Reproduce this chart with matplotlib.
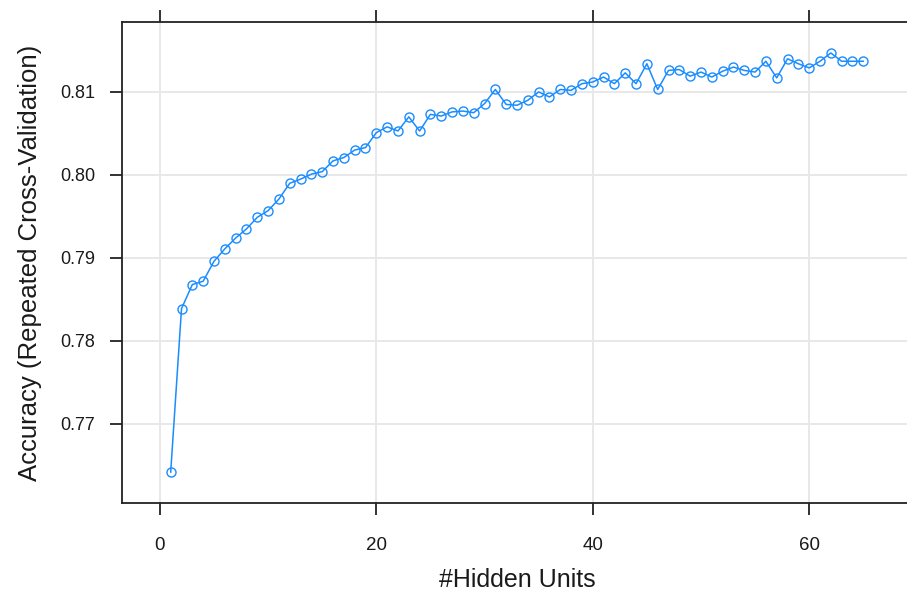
import matplotlib
matplotlib.use("Agg")
import matplotlib.pyplot as plt

plt.rcParams['font.family'] = ['Liberation Sans', 'DejaVu Sans']

# Cross-validated accuracy for each network size
hidden_units = list(range(1, 66))
accuracy = [
    0.7642, 0.7839, 0.7868, 0.7872, 0.7896, 0.7911, 0.7924, 0.7935, 0.7949, 0.7957,
    0.7971, 0.7990, 0.7995, 0.8001, 0.8004, 0.8017, 0.8021, 0.8030, 0.8033, 0.8051,
    0.8058, 0.8053, 0.8070, 0.8053, 0.8073, 0.8071, 0.8076, 0.8077, 0.8075, 0.8086,
    0.8103, 0.8085, 0.8084, 0.8090, 0.8100, 0.8094, 0.8103, 0.8102, 0.8110, 0.8112,
    0.8118, 0.8110, 0.8123, 0.8110, 0.8134, 0.8103, 0.8126, 0.8127, 0.8119, 0.8124,
    0.8118, 0.8125, 0.8130, 0.8126, 0.8124, 0.8137, 0.8117, 0.8140, 0.8134, 0.8129,
    0.8137, 0.8147, 0.8137, 0.8137, 0.8137,
]
x_ticks = [0, 20, 40, 60]
y_ticks = [0.77, 0.78, 0.79, 0.80, 0.81]
y_tick_labels = ["0.77", "0.78", "0.79", "0.80", "0.81"]

W, H = 907, 594
fig = plt.figure(figsize=(W / 100, H / 100), dpi=100)
left, right, top, bottom = 122, 912, 22, 503
ax = fig.add_axes([left / W, 1 - bottom / H, (right - left) / W, (bottom - top) / H])

ax.plot(hidden_units, accuracy, color='#1a8cff', lw=1.1,
        marker='o', markersize=6.5, markerfacecolor='none',
        markeredgecolor='#1a8cff', markeredgewidth=1.0, zorder=3)

ax.set_xlim(-3.5, 69.5)
ax.set_ylim(0.76048, 0.81843)
ax.set_xticks(x_ticks)
ax.set_yticks(y_ticks)
ax.set_yticklabels(y_tick_labels)

ax.grid(True, color='#e8e8e8', lw=1.4)
ax.set_axisbelow(True)

for s in ax.spines.values():
    s.set_color('#222222')
    s.set_linewidth(1.3)

ax.tick_params(axis='x', which='both', top=True, bottom=True, direction='out',
               length=8.5, width=1.3, color='#222222', labelsize=13.5,
               labelcolor='#1a1a1a', pad=16)
ax.tick_params(axis='y', which='both', left=True, right=True, direction='out',
               length=8.5, width=1.3, color='#222222', labelsize=13,
               labelcolor='#1a1a1a', pad=11)

ax.set_xlabel('#Hidden Units', fontsize=18, color='#1a1a1a', labelpad=10)
ax.set_ylabel('Accuracy (Repeated Cross-Validation)', fontsize=18.5,
              color='#1a1a1a', labelpad=13)

fig.savefig('out.png', dpi=100, facecolor='white')
